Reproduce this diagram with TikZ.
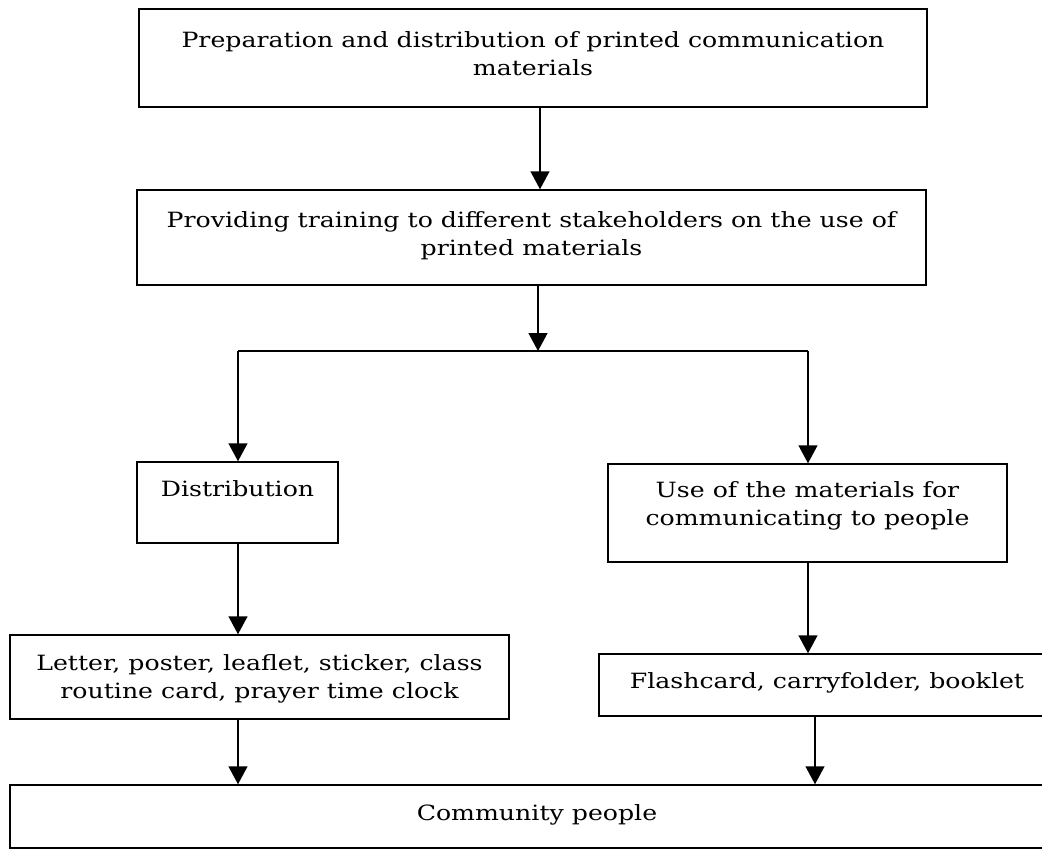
\documentclass[tikz,border=0pt]{standalone}
\usepackage{fontspec}
\setmainfont[FakeStretch=1.2]{DejaVu Serif}
\usetikzlibrary{arrows.meta,calc}
\newcommand\bxt[4]{\parbox[c][#2][t]{#1}{\centering\rule{0pt}{#3}#4}}
\begin{document}
\begin{tikzpicture}[x=1pt,y=-1pt,
  box/.style={draw,line width=1.5pt,inner sep=0pt,font=\fontsize{21}{28}\selectfont},
  arr/.style={line width=1.5pt,-{Triangle[width=19pt,length=18pt]}},
  ln/.style={line width=1.5pt}]
\useasboundingbox (0,0) rectangle (1042,849);
\node[box] (b1) at (533,58) {\bxt{788pt}{98pt}{38pt}{Preparation and distribution of printed communication\\materials}};
\node[box] (b2) at (531.5,237.5) {\bxt{789pt}{95pt}{37pt}{Providing training to different stakeholders on the use of\\printed materials}};
\node[box] (b3) at (237.5,502.5) {\bxt{201pt}{81pt}{34pt}{Distribution}};
\node[box] (b4) at (807.5,513) {\bxt{399pt}{98pt}{33pt}{Use of the materials for\\communicating to people}};
\node[box] (b5) at (259.5,677) {\bxt{499pt}{84pt}{35pt}{Letter, poster, leaflet, sticker, class\\routine card, prayer time clock}};
\node[box] (b6) at (827,685) {\bxt{456pt}{62pt}{34pt}{Flashcard, carryfolder, booklet}};
\node[box] (b7) at (537,816.5) {\bxt{1054pt}{63pt}{35pt}{Community people}};
\coordinate (xa) at (540,0);
\coordinate (xb) at (538,0);
\coordinate (xl) at (238,0);
\coordinate (xr) at (808,0);
\coordinate (xs) at (815,0);
\coordinate (jn) at (538,351);
\coordinate (jl) at (238,351);
\coordinate (jr) at (808,351);
\draw[arr] (b1.south -| xa) -- (b2.north -| xa);
\draw[arr] (b2.south -| xb) -- (jn);
\draw[ln] (jl) -- (jr);
\draw[arr] (jl) -- (b3.north -| xl);
\draw[arr] (jr) -- (b4.north -| xr);
\draw[arr] (b3.south -| xl) -- (b5.north -| xl);
\draw[arr] (b4.south -| xr) -- (b6.north -| xr);
\draw[arr] (b5.south -| xl) -- (b7.north -| xl);
\draw[arr] (b6.south -| xs) -- (b7.north -| xs);
\end{tikzpicture}
\end{document}
